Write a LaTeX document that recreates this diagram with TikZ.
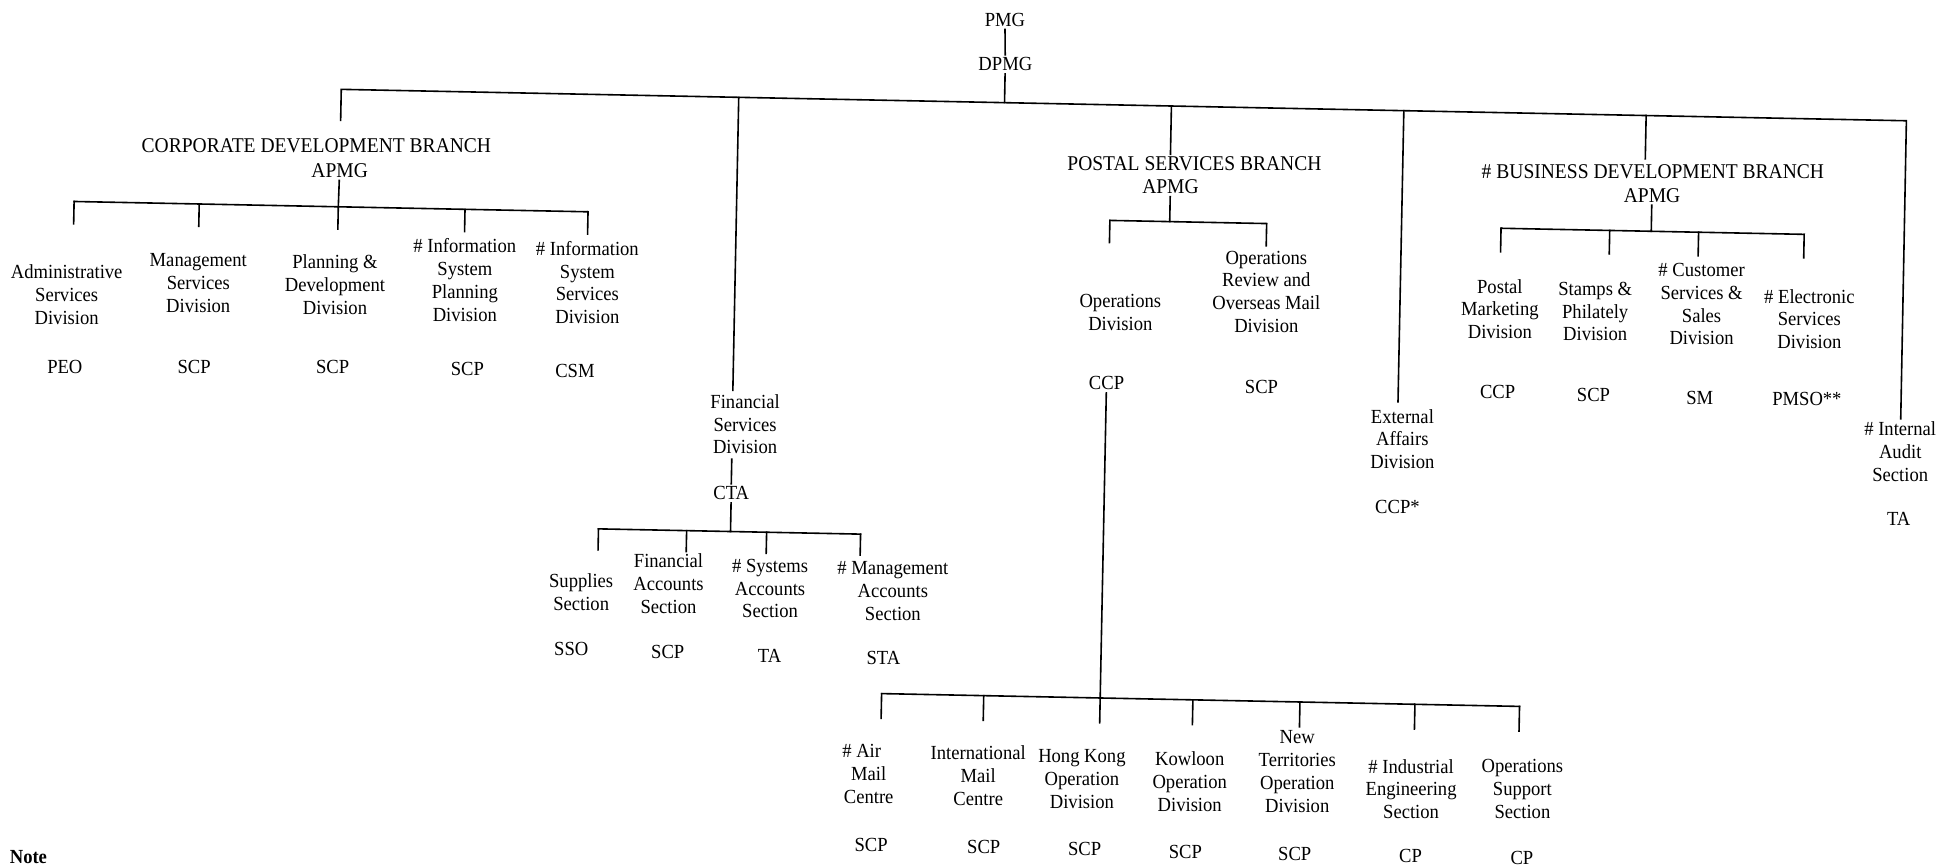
\documentclass[tikz,border=0pt]{standalone}
\usepackage{fontspec}
\setmainfont{Liberation Serif}[FakeStretch=0.93]
\usepackage{tikz}

\begin{document}
\begin{tikzpicture}[x=0.6183pt,y=-0.6183pt,line width=0.8pt,line cap=rect,
  every node/.style={align=center,inner sep=1pt,font=\fontsize{10}{11.4}\selectfont},
  branchtitle/.style={font=\fontsize{10.5}{11.4}\selectfont}]
\useasboundingbox (0,0) rectangle (1568,701);
\clip (0,0) rectangle (1568,701);
\begin{scope}[rotate around={-1.15:(784,350)}]

\node (pmg) at (806,15.5) {PMG};
\node (dpmg) at (807,51.5) {DPMG};
\coordinate (mD) at (807,82.5);
\coordinate (mL) at (270.5,82.5);
\coordinate (mF) at (592,82.5);
\coordinate (mP) at (942,82.5);
\coordinate (mE) at (1130,82.5);
\coordinate (mB) at (1326,82.5);
\coordinate (mI) at (1536.5,82.5);
\draw (pmg) -- (dpmg);
\draw (dpmg) -- (mD);

\node[branchtitle] (cdb) at (251.3,128.6) {CORPORATE DEVELOPMENT BRANCH};
\node[branchtitle] (capmg) at (270.5,148.2) {APMG};
\coordinate (c1) at (56.3,177.5);
\coordinate (c2) at (157.5,177.5);
\coordinate (c3) at (270,177.5);
\coordinate (c4) at (372.5,177.5);
\coordinate (c5) at (472,177.5);
\node (adm) at (51.8,252.9) {Administrative\\Services\\Division};
\node (msd) at (158,241.5) {Management\\Services\\Division};
\node (pdd) at (268.6,240.3) {Planning \&\\Development\\Division};
\node (isp) at (373.5,234.7) {\# Information\\System\\Planning\\Division};
\node (iss) at (472.6,234.7) {\# Information\\System\\Services\\Division};
\node (gadm) at (51.5,311.7) {PEO};
\node (gmsd) at (156,309.6) {SCP};
\node (gpdd) at (268,307.4) {SCP};
\node (gisp) at (377,306.2) {SCP};
\node (giss) at (464,306.4) {CSM};

\node (fsd) at (602.4,346.7) {Financial\\Services\\Division};
\node (cta) at (592.4,402.9) {CTA};
\coordinate (f1) at (485.6,433.7);
\coordinate (f2) at (556.9,433.7);
\coordinate (f3) at (592.4,433.7);
\coordinate (f4) at (621.6,433.7);
\coordinate (f5) at (697.6,433.7);
\node (sup) at (472.6,485.3) {Supplies\\Section};
\node (fas) at (543.1,476.9) {Financial\\Accounts\\Section};
\node (sas) at (625.3,479.2) {\# Systems\\Accounts\\Section};
\node (mas) at (724.6,479.2) {\# Management\\Accounts\\Section};
\node (gsup) at (465.5,531.5) {SSO};
\node (gfas) at (543.6,531.9) {SCP};
\node (gsas) at (626,533.3) {TA};
\node (gmas) at (718,533.4) {STA};

\node[branchtitle] (pst) at (961.5,128.7) {POSTAL SERVICES BRANCH};
\node[branchtitle] (papmg) at (942.5,147.8) {APMG};
\coordinate (p1) at (894.1,176);
\coordinate (p2) at (942.5,176);
\coordinate (p3) at (1020.9,176);
\node (opd) at (904,250.5) {Operations\\Division};
\node (orm) at (1021.7,231.2) {Operations\\Review and\\Overseas Mail\\Division};
\node (gopd) at (894,307.8) {CCP};
\node (gorm) at (1019.3,308.3) {SCP};
\coordinate (b1) at (717.2,562.3);
\coordinate (b2) at (799.8,562.3);
\coordinate (b3) at (894,562.3);
\coordinate (b4) at (969,562.3);
\coordinate (b5) at (1055.6,562.3);
\coordinate (b6) at (1148.6,562.3);
\coordinate (b7) at (1233.2,562.3);
\node (amc) at (708,627.7) {\llap{\#\ }Air\\Mail\\Centre};
\node (imc) at (796.6,626.9) {International\\Mail\\Centre};
\node (hko) at (880.5,628.2) {Hong Kong\\Operation\\Division};
\node (kow) at (967.7,628.4) {Kowloon\\Operation\\Division};
\node (nto) at (1054.5,618.7) {New\\Territories\\Operation\\Division};
\node (ies) at (1146.8,630.8) {\# Industrial\\Engineering\\Section};
\node (oss) at (1236.8,629) {Operations\\Support\\Section};
\node (gamc) at (711.2,685) {SCP};
\node (gimc) at (802.2,685) {SCP};
\node (ghko) at (883.8,685) {SCP};
\node (gkow) at (965.3,685) {SCP};
\node (gnto) at (1053.8,685) {SCP};
\node (gies) at (1147.4,685) {CP};
\node (goss) at (1237.5,685) {CP};

\node (ead) at (1134.1,348) {External\\Affairs\\Division};
\node (gead) at (1131.2,403) {CCP*};

\node[branchtitle] (bdb) at (1332.3,127.9) {\# BUSINESS DEVELOPMENT BRANCH};
\node[branchtitle] (bapmg) at (1332,146.9) {APMG};
\coordinate (q1) at (1210.5,176);
\coordinate (q2) at (1298.4,176);
\coordinate (q3) at (1332,176);
\coordinate (q4) at (1370.3,176);
\coordinate (q5) at (1455.7,176);
\node (pmd) at (1210.8,241.4) {Postal\\Marketing\\Division};
\node (spd) at (1287.9,241.8) {Stamps \&\\Philately\\Division};
\node (css) at (1373.8,234.1) {\# Customer\\Services \&\\Sales\\Division};
\node (esd) at (1461.2,244.4) {\# Electronic\\Services\\Division};
\node (gpmd) at (1210.3,308.4) {CCP};
\node (gspd) at (1287.9,308.9) {SCP};
\node (gcss) at (1373.9,310.1) {SM};
\node (gesd) at (1460.5,309.4) {PMSO**};

\node (ias) at (1536.8,349.9) {\# Internal\\Audit\\Section};
\node (gias) at (1536.7,404.9) {TA};

\node[font=\fontsize{10}{11.4}\bfseries] (note) at (30,708.5) {Note};

\draw (mL) ++(0,25) -- (mL) -- (mI) -- (ias);
\draw (mF) -- ++(0,237);
\draw (mP) -- ++(0,39);
\draw (mE) -- ++(0,235.5);
\draw (mB) -- ++(0,35);

\draw (capmg) -- (c3);
\draw (c1) -- (c5);
\foreach \c in {c1,c2,c3,c4,c5} \draw (\c) -- ++(0,18);

\draw (cta.north) -- ++(0,-20);
\draw (cta) -- (f3);
\draw (f1) -- (f5);
\foreach \c in {f1,f2,f4,f5} \draw (\c) -- ++(0,17);

\draw (papmg) -- (p2);
\draw (p1) -- (p3);
\foreach \c in {p1,p3} \draw (\c) -- ++(0,18);
\draw (gopd) -- (b3);
\draw (b1) -- (b7);
\foreach \c in {b1,b2,b3,b4,b5,b6,b7} \draw (\c) -- ++(0,20);

\draw (bapmg) -- (q3);
\draw (q1) -- (q5);
\foreach \c in {q1,q2,q4,q5} \draw (\c) -- ++(0,19);

\end{scope}
\end{tikzpicture}
\end{document}
